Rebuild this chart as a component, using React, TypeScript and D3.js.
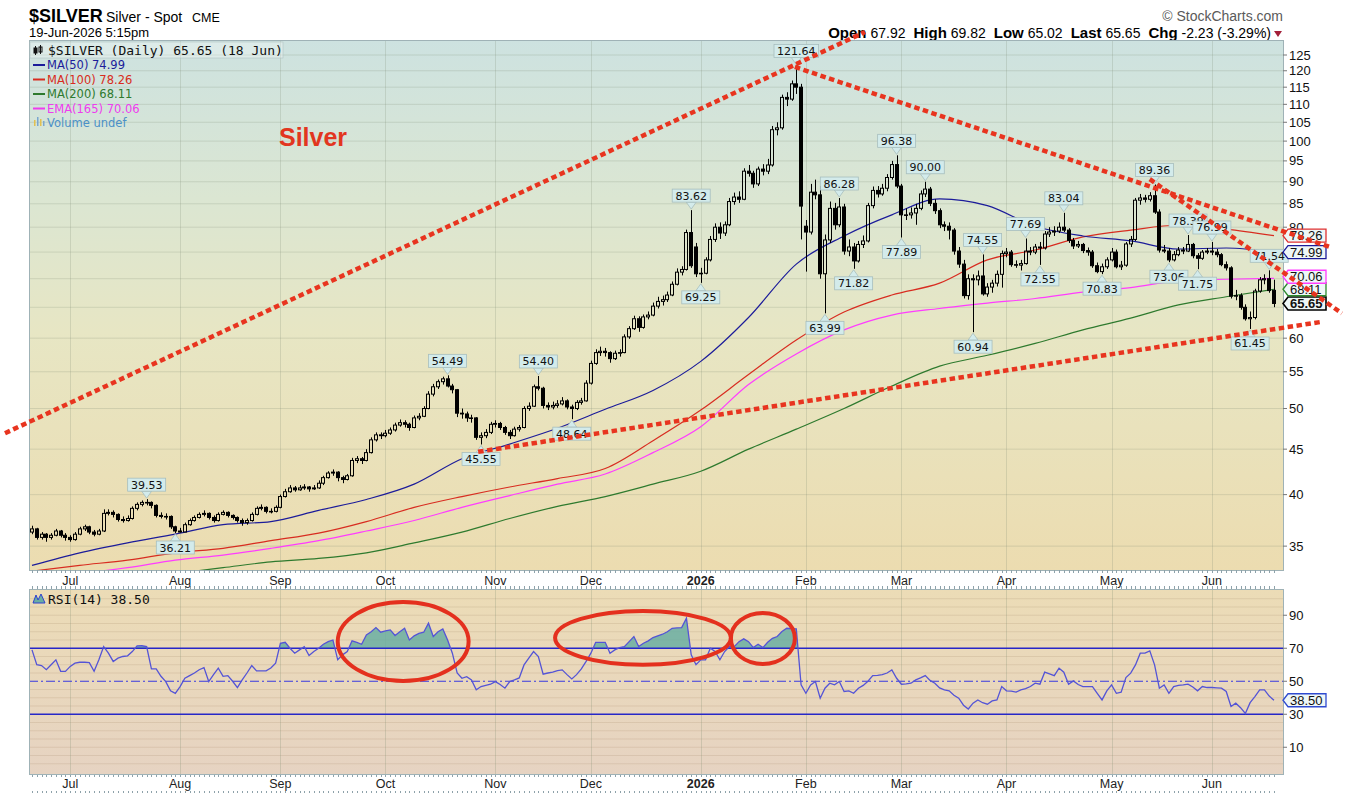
import React from 'react';
import * as d3 from 'd3';

// daily bars, [open, high, low, close]
const jun2025 = [
  [36.3, 36.9, 36.1, 36.6], [36.6, 36.7, 35.6, 35.8], [35.8, 36.3, 35.6, 36.1], [36.1, 36.2, 35.4, 35.8],
  [35.8, 36.2, 35.6, 36.0], [36.0, 36.6, 35.9, 36.4], [36.4, 36.5, 35.8, 36.0], [36.0, 36.2, 35.5, 35.8],
];
const jul2025 = [
  [35.8, 36.0, 35.4, 35.6], [35.6, 36.3, 35.5, 36.1], [36.1, 36.8, 36.0, 36.6], [36.6, 37.0, 36.4, 36.8],
  [36.8, 36.9, 36.1, 36.3], [36.3, 36.5, 35.9, 36.1], [36.1, 36.6, 36.0, 36.4], [36.4, 38.5, 36.3, 38.1],
  [38.1, 38.5, 37.9, 38.2], [38.2, 38.4, 37.7, 38.0], [38.0, 38.1, 37.3, 37.5], [37.5, 37.8, 37.2, 37.4],
  [37.4, 37.9, 37.3, 37.6], [37.6, 38.8, 37.5, 38.6], [38.6, 39.2, 38.4, 39.0], [39.0, 39.4, 38.8, 39.2],
  [39.2, 39.53, 38.9, 39.2], [39.2, 39.3, 38.6, 38.9], [38.9, 39.0, 37.7, 37.9], [37.9, 38.2, 37.6, 37.8],
  [37.8, 38.1, 37.5, 37.8], [37.8, 37.9, 36.6, 36.8], [36.8, 36.9, 36.21, 36.4],
];
const aug2025 = [
  [36.4, 36.7, 36.25, 36.3], [36.3, 37.2, 36.3, 37.0], [37.0, 37.6, 36.9, 37.4], [37.4, 37.9, 37.3, 37.7],
  [37.7, 38.2, 37.6, 38.0], [38.0, 38.4, 37.8, 38.1], [38.1, 38.2, 37.5, 37.7], [37.7, 37.9, 37.2, 37.4],
  [37.4, 38.2, 37.3, 38.0], [38.0, 38.4, 37.9, 38.2], [38.2, 38.3, 37.7, 37.9], [37.9, 38.0, 37.5, 37.7],
  [37.7, 37.8, 37.2, 37.4], [37.4, 37.6, 36.9, 37.2], [37.2, 37.6, 37.0, 37.4], [37.4, 38.2, 37.3, 38.0],
  [38.0, 38.8, 37.9, 38.6], [38.6, 39.0, 38.4, 38.7], [38.7, 38.8, 38.1, 38.3], [38.3, 38.6, 38.1, 38.3],
  [38.3, 38.9, 38.2, 38.7],
];
const sep2025 = [
  [38.7, 40.0, 38.6, 39.8], [39.8, 40.6, 39.7, 40.3], [40.3, 41.0, 40.2, 40.7], [40.7, 40.9, 40.3, 40.5],
  [40.5, 41.0, 40.4, 40.7], [40.7, 41.1, 40.5, 40.8], [40.8, 40.9, 40.3, 40.6], [40.6, 41.0, 40.5, 40.7],
  [40.7, 41.5, 40.6, 41.2], [41.2, 42.0, 41.0, 41.8], [41.8, 42.5, 41.7, 42.3], [42.3, 42.7, 42.0, 42.4],
  [42.4, 42.5, 41.4, 41.8], [41.8, 42.0, 41.2, 41.6], [41.6, 42.2, 41.5, 42.0], [42.0, 44.0, 41.9, 43.7],
  [43.7, 44.2, 43.4, 43.9], [43.9, 44.1, 43.3, 43.7], [43.7, 45.0, 43.6, 44.6], [44.6, 46.4, 44.5, 46.1],
  [46.1, 47.0, 45.9, 46.7], [46.7, 47.0, 46.2, 46.6],
];
const oct2025 = [
  [46.6, 47.3, 46.4, 46.9], [46.9, 47.6, 46.7, 47.3], [47.3, 48.2, 47.1, 47.9], [47.9, 48.6, 47.7, 48.2],
  [48.2, 48.5, 47.6, 48.0], [48.0, 48.2, 47.2, 47.6], [47.6, 49.1, 47.5, 48.8], [48.8, 49.4, 48.5, 49.0],
  [49.0, 50.3, 48.9, 50.0], [50.0, 52.3, 49.9, 51.9], [51.9, 53.3, 51.6, 52.9], [52.9, 53.9, 52.6, 53.6],
  [53.6, 54.3, 53.2, 54.0], [54.0, 54.49, 52.8, 53.0], [53.0, 53.3, 52.0, 52.5], [52.5, 52.6, 48.9, 49.4],
  [49.4, 50.0, 48.7, 49.3], [49.3, 49.6, 48.3, 48.8], [48.8, 49.2, 48.2, 48.8], [48.8, 48.9, 46.1, 46.4],
  [46.4, 47.0, 45.55, 46.6], [46.6, 47.4, 46.3, 47.0], [47.0, 48.3, 46.8, 48.0],
];
const nov2025 = [
  [48.0, 48.5, 47.6, 48.1], [48.1, 48.3, 47.3, 47.6], [47.6, 47.8, 46.7, 47.0], [47.0, 47.3, 46.2, 46.6],
  [46.6, 47.7, 46.5, 47.4], [47.4, 47.9, 47.1, 47.6], [47.6, 50.3, 47.5, 50.0], [50.0, 50.8, 49.7, 50.3],
  [50.3, 53.2, 50.2, 52.9], [52.9, 54.4, 52.4, 52.7], [52.7, 52.9, 50.0, 50.4], [50.4, 50.8, 49.8, 50.2],
  [50.2, 50.9, 49.9, 50.4], [50.4, 51.1, 50.1, 50.6], [50.6, 51.5, 50.4, 51.0], [51.0, 51.2, 49.9, 50.2],
  [50.2, 50.5, 48.64, 50.0], [50.0, 51.1, 49.8, 50.8], [50.8, 51.4, 50.5, 51.0], [51.0, 53.8, 50.9, 53.4],
];
const dec2025 = [
  [53.4, 56.6, 53.2, 56.2], [56.2, 58.3, 56.0, 57.8], [57.8, 58.7, 57.3, 58.0], [58.0, 58.5, 57.2, 57.8],
  [57.8, 58.0, 56.3, 56.9], [56.9, 58.1, 56.7, 57.7], [57.7, 58.3, 57.2, 57.8], [57.8, 60.6, 57.7, 60.2],
  [60.2, 61.9, 59.9, 61.5], [61.5, 63.6, 61.3, 63.1], [63.1, 63.5, 61.0, 61.7], [61.7, 63.8, 61.5, 63.4],
  [63.4, 64.3, 63.0, 63.7], [63.7, 65.8, 63.5, 65.2], [65.2, 66.8, 64.8, 66.0], [66.0, 67.0, 65.3, 66.3],
  [66.3, 67.7, 65.9, 67.1], [67.1, 69.5, 66.9, 69.0], [69.0, 71.9, 68.8, 71.2], [71.2, 72.3, 70.6, 71.7],
  [71.7, 79.5, 71.5, 78.9], [78.9, 83.62, 72.0, 72.4], [76.0, 76.8, 70.3, 70.9],
];
const jan2026 = [
  [70.9, 72.0, 69.25, 71.0], [71.0, 74.0, 70.8, 73.5], [73.5, 78.2, 73.2, 77.5], [77.5, 80.8, 77.0, 80.0],
  [80.0, 81.0, 77.6, 78.8], [78.8, 81.2, 78.2, 80.5], [80.5, 86.3, 80.2, 85.5], [85.5, 87.5, 84.8, 86.5],
  [86.5, 87.8, 85.2, 86.0], [86.0, 93.2, 85.8, 92.5], [92.5, 94.0, 91.2, 92.0], [92.0, 92.6, 88.6, 89.5],
  [89.5, 93.6, 89.0, 93.0], [93.0, 94.2, 91.5, 92.5], [92.5, 95.5, 91.8, 94.0], [94.0, 104.0, 93.6, 103.0],
  [103.0, 105.0, 101.5, 103.5], [103.5, 112.8, 103.0, 112.0], [112.0, 113.5, 109.5, 111.5], [111.5, 117.0, 111.0, 116.0],
  [116.0, 121.64, 113.0, 115.0], [115.0, 116.0, 77.5, 84.5],
];
const feb2026 = [
  [80.2, 81.5, 71.3, 79.0], [79.0, 89.5, 78.5, 87.6], [87.6, 90.5, 86.0, 87.0], [87.0, 89.0, 70.0, 70.9],
  [70.9, 78.5, 63.99, 77.4], [77.4, 85.5, 76.8, 84.0], [84.0, 85.2, 79.5, 80.5], [80.5, 86.28, 80.0, 84.3],
  [84.3, 85.0, 74.5, 75.2], [75.2, 77.5, 74.2, 76.0], [76.0, 76.8, 71.82, 73.3], [73.3, 77.2, 73.0, 76.5],
  [76.5, 78.3, 75.8, 77.2], [77.2, 85.2, 76.9, 84.6], [84.6, 88.9, 84.0, 88.0], [88.0, 89.0, 86.4, 87.2],
  [87.2, 89.5, 86.8, 88.5], [88.5, 91.8, 87.8, 91.0], [91.0, 95.0, 90.5, 94.1], [94.1, 96.38, 88.5, 89.0],
];
const mar2026 = [
  [89.0, 89.5, 77.89, 82.6], [82.6, 84.0, 81.5, 82.6], [82.6, 84.2, 81.8, 83.0], [83.0, 85.0, 80.5, 84.0],
  [84.0, 88.0, 83.6, 87.2], [87.2, 90.0, 86.5, 88.3], [88.3, 88.8, 84.5, 85.1], [85.1, 86.0, 82.8, 83.5],
  [83.5, 84.0, 79.8, 80.5], [80.5, 81.2, 79.2, 80.2], [80.2, 81.0, 77.5, 79.4], [79.4, 79.8, 74.5, 75.2],
  [75.2, 76.0, 72.0, 72.7], [72.7, 73.5, 66.5, 67.0], [67.0, 70.8, 66.3, 70.0], [70.0, 70.8, 60.94, 69.8],
  [69.8, 71.5, 68.8, 70.5], [70.5, 74.55, 67.0, 67.3], [67.3, 69.2, 66.8, 68.5], [68.5, 69.8, 67.5, 69.2],
  [69.2, 71.5, 68.6, 70.8], [70.8, 75.3, 68.4, 74.7],
];
const apr2026 = [
  [74.7, 75.8, 74.0, 75.0], [75.0, 75.4, 72.2, 72.6], [72.6, 73.4, 72.0, 72.5], [72.5, 73.5, 71.5, 72.8],
  [72.8, 77.69, 72.6, 75.2], [75.2, 76.0, 74.4, 75.0], [75.0, 76.6, 74.6, 76.0], [76.0, 77.0, 72.55, 75.8],
  [75.8, 79.2, 75.5, 78.6], [78.6, 80.0, 78.0, 79.0], [79.0, 80.2, 78.2, 79.2], [79.2, 81.0, 78.8, 80.0],
  [80.0, 83.04, 79.0, 79.4], [79.4, 79.8, 76.8, 77.3], [77.3, 77.8, 75.6, 76.2], [76.2, 77.2, 75.8, 76.5],
  [76.5, 76.8, 74.8, 75.3], [75.3, 75.9, 74.3, 75.0], [75.0, 75.4, 72.0, 72.4], [72.4, 73.0, 71.0, 71.3],
  [71.3, 72.8, 70.83, 72.2], [72.2, 74.0, 71.8, 73.5],
];
const may2026 = [
  [73.5, 75.8, 73.2, 75.0], [75.0, 75.5, 71.9, 72.2], [72.2, 73.3, 71.6, 72.5], [72.5, 77.0, 72.2, 76.6],
  [76.6, 78.2, 76.0, 77.5], [77.5, 86.3, 77.2, 85.8], [85.8, 87.2, 84.8, 86.3], [86.3, 87.0, 85.3, 86.0],
  [86.0, 87.6, 85.5, 86.8], [86.8, 89.36, 82.8, 83.2], [83.2, 83.8, 74.9, 75.4], [75.4, 76.4, 74.8, 75.2],
  [75.2, 75.8, 73.06, 73.5], [73.5, 75.2, 73.2, 74.5], [74.5, 76.0, 74.2, 75.4], [75.4, 76.0, 74.6, 75.2],
  [75.2, 78.39, 75.0, 76.5], [76.5, 76.8, 73.8, 74.3], [74.3, 74.8, 71.75, 73.8], [73.8, 75.4, 73.5, 75.0],
  [75.0, 75.8, 74.6, 75.2],
];
const jun2026 = [
  [75.2, 76.99, 74.4, 75.0], [75.0, 75.6, 74.0, 74.5], [74.5, 74.8, 72.3, 72.6], [72.6, 73.2, 71.5, 72.0],
  [72.0, 72.3, 66.5, 66.9], [66.9, 68.0, 66.2, 67.0], [67.0, 67.4, 64.6, 65.0], [65.0, 65.5, 62.8, 63.1],
  [63.1, 64.3, 61.45, 63.3], [63.3, 68.2, 63.0, 67.8], [67.8, 70.3, 67.5, 69.8], [69.8, 70.8, 69.0, 70.0],
  [70.0, 71.54, 67.5, 67.88], [67.92, 69.82, 65.02, 65.65],
];

// moving averages, one reading every 10 sessions
const maStep = 10;
const ma50 = [33.3, 34.4, 35.3, 36.1, 37.0, 37.3, 38.4, 39.5, 41.1, 43.9, 45.6, 47.5, 49.9, 52.4, 56.5, 63.3, 72.7, 78.2, 82.6, 86.1, 84.6, 80.2, 78.2, 77.2, 75.6, 75.8, 74.99];
const ma100 = [32.8, 33.3, 33.75, 34.4, 34.8, 35.5, 36.2, 37.3, 38.7, 39.8, 40.8, 41.7, 42.8, 46.0, 49.8, 54.6, 59.7, 64.2, 67.1, 69.2, 73.5, 75.4, 78.0, 79.4, 80.4, 79.6, 78.26];
const ma200 = [31.2, 31.6, 32.1, 32.6, 33.1, 33.6, 33.9, 34.4, 35.3, 36.3, 37.6, 38.8, 39.8, 41.1, 42.5, 45.0, 47.4, 50.0, 53.0, 55.8, 57.4, 59.2, 61.3, 63.2, 65.4, 66.8, 68.11];
const ema165 = [32.2, 32.6, 33.1, 33.75, 34.2, 34.8, 35.5, 36.4, 37.4, 38.7, 39.9, 41.1, 42.2, 44.6, 47.7, 53.2, 57.6, 61.3, 63.7, 64.8, 65.7, 66.5, 67.6, 68.4, 69.6, 69.9, 70.06];

// RSI(14), one value per session
const rsi14 = [
  69, 60, 59.5, 57, 60, 63, 56, 56,
  59, 61, 61.5, 61.5, 61.3, 56, 63, 71, 67, 62, 64, 65, 65.4, 68, 71.4, 71.5, 71, 57.5, 57.5, 53, 49.8, 44.2, 42.7,
  46.8, 51.8, 53.4, 55, 57, 58.3, 49.8, 54, 57.9, 53, 53.4, 50, 46.2, 50.8, 55, 59.5, 56.3, 56.3, 56.3, 58, 61,
  73, 73.6, 70, 67, 69, 71, 65.6, 68, 70, 72.4, 74, 75, 63, 66, 68, 74.5, 73.5, 72.4, 78.1, 80, 82.5, 79.7,
  80.5, 81.1, 77.7, 80, 82.1, 75, 77.5, 79, 79.7, 85.2, 77.1, 80, 81.7, 75, 67, 55, 51.8, 52.8, 50.8, 44.8, 46.8, 47.5, 48.2,
  49.8, 48, 45.8, 49.8, 50.8, 52, 59.9, 64, 68, 65, 54.3, 55, 55.5, 56.5, 56.9, 54, 51.4, 54, 57.5, 62,
  67, 73.6, 73.6, 73.6, 67, 69, 70.4, 71, 74, 77.1, 71, 73, 74.5, 76.5, 77.5, 78.5, 80, 82.1, 82.3, 82.5, 88.2, 66, 60,
  63, 63, 70, 68, 63, 68, 71, 71, 74, 75.7, 74, 70.4, 72.4, 70.4, 73.6, 76, 77.1, 80.1, 82.1, 81.9, 81.7, 47.8,
  42.7, 47.8, 49.8, 39.7, 45.8, 48.8, 47.8, 49.8, 43.8, 44.2, 42.7, 45.8, 47.5, 50, 53.4, 53.6, 54, 55, 56.9, 51.8,
  48.2, 48.4, 48.8, 50.8, 52, 53.4, 50.5, 48.8, 46, 44.8, 44.2, 41.5, 39.7, 35.5, 33.2, 36.7, 38.7, 37, 36.1, 38.1, 38.7, 46.8,
  44.2, 44, 43.4, 44.8, 45.5, 46.8, 48.8, 48.2, 55.5, 54.5, 53.4, 57.9, 55.5, 48.2, 50.2, 48, 46.8, 46.8, 46.8, 42.7, 38.7, 44.2,
  47.8, 42.7, 43.4, 52.2, 54.9, 59.9, 67, 67, 68.4, 59.9, 45.8, 47.8, 42.7, 46.8, 47.5, 47.8, 48.2, 46.5, 44.2, 46.8, 46.2,
  46.2, 46, 45.8, 43.8, 34.7, 36.7, 34, 30.5, 37, 40.7, 44.8, 44.8, 41, 38.5,
];

const priceTicks = [125, 120, 115, 110, 105, 100, 95, 90, 85, 80, 75, 70, 65, 60, 55, 50, 45, 40, 35];
const rsiTicks = [90, 70, 50, 30, 10];

// annotated turning points [date, price]
const pivotHighs: [string, number][] = [
  ['2025-07-23', 39.53], ['2025-10-20', 54.49], ['2025-11-14', 54.4], ['2025-12-30', 83.62],
  ['2026-01-29', 121.64], ['2026-02-11', 86.28], ['2026-02-27', 96.38], ['2026-03-09', 90.0],
  ['2026-03-25', 74.55], ['2026-04-07', 77.69], ['2026-04-17', 83.04], ['2026-05-14', 89.36],
  ['2026-05-25', 78.39], ['2026-06-01', 76.99], ['2026-06-17', 71.54],
];
const pivotLows: [string, number][] = [
  ['2025-07-31', 36.21], ['2025-10-29', 45.55], ['2025-11-25', 48.64], ['2026-01-01', 69.25],
  ['2026-02-06', 63.99], ['2026-02-16', 71.82], ['2026-03-02', 77.89], ['2026-03-23', 60.94],
  ['2026-04-10', 72.55], ['2026-04-29', 70.83], ['2026-05-19', 73.06], ['2026-05-27', 71.75],
  ['2026-06-11', 61.45],
];

// hand-drawn trend lines: [session, price] -> [session, price]
const trendLines: [number, number][][] = [
  [[-5.65, 46.9], [174.4, 132.7]],
  [[159.7, 121.2], [271.7, 76.0]],
  [[234.0, 90.6], [274.2, 64.0]],
  [[93.4, 44.7], [270.0, 62.6]],
];

// RSI highlight rings: session span and RSI span
const rsiRings = [
  { from: 64.0, to: 91.4, lo: 50.2, hi: 98.0 },
  { from: 109.5, to: 146.3, lo: 60.0, hi: 92.6 },
  { from: 146.3, to: 159.7, lo: 60.5, hi: 91.4 },
];

const SANS = "'Liberation Sans', Arial, Helvetica, sans-serif";
const VERD = "'DejaVu Sans', Verdana, sans-serif";
const MONO = "'DejaVu Sans Mono', monospace";

const sessions: Date[] = d3.timeDay
  .range(new Date(2025, 5, 19), new Date(2026, 5, 19))
  .filter((d) => d.getDay() !== 0 && d.getDay() !== 6);

const bars = [
  ...jun2025, ...jul2025, ...aug2025, ...sep2025, ...oct2025, ...nov2025,
  ...dec2025, ...jan2026, ...feb2026, ...mar2026, ...apr2026, ...may2026, ...jun2026,
].map((b, i) => ({ i, date: sessions[i], open: b[0], high: b[1], low: b[2], close: b[3] }));

const keyFmt = d3.timeFormat('%Y-%m-%d');
const sessionIndex = new Map(sessions.map((d, i) => [keyFmt(d), i]));

const PL = 29, PR = 1283, PT = 40, PB = 570;
const RT = 589, RB = 774;

export default function App() {
  const x = d3.scaleLinear().domain([0, bars.length - 1]).range([32, 1274]);
  const y = d3.scaleLog().domain([32.9, 129.96]).range([PB, PT]);
  const ry = d3.scaleLinear().domain([-6.2, 105.9]).range([RB, RT]);

  const last = bars[bars.length - 1];
  const prev = bars[bars.length - 2];
  const chg = last.close - prev.close;
  const pct = (chg / prev.close) * 100;

  const monthStarts = sessions
    .map((d, i) => ({ d, i }))
    .filter(({ d, i }) => i > 0 && d.getMonth() !== sessions[i - 1].getMonth());
  const monthLabel = (d: Date) => (d.getMonth() === 0 ? String(d.getFullYear()) : d3.timeFormat('%b')(d));

  const maLine = d3
    .line<number>()
    .x((_, k) => x(k * maStep))
    .y((v) => y(v))
    .curve(d3.curveMonotoneX);

  const rsiLine = d3.line<number>().x((_, i) => x(i)).y((v) => ry(v));
  const rsiArea = d3.area<number>().x((_, i) => x(i)).y0(ry(70)).y1((v) => ry(v));

  const trendPath = (pts: [number, number][]) =>
    d3.line<[number, number]>().x((p) => x(p[0])).y((p) => y(p[1]))(pts) || '';

  // right-hand value tags, pushed apart so they don't overlap
  const tags = [
    { v: ma100[ma100.length - 1], color: '#e03030', bold: false },
    { v: ma50[ma50.length - 1], color: '#1c1c9a', bold: false },
    { v: ema165[ema165.length - 1], color: '#ff3cff', bold: false },
    { v: ma200[ma200.length - 1], color: '#2e8a2e', bold: false },
    { v: last.close, color: '#000', bold: true },
  ]
    .map((t) => ({ ...t, y: y(t.v) }))
    .sort((a, b) => b.y - a.y);
  for (let k = 1; k < tags.length; k++) {
    if (tags[k - 1].y - tags[k].y < 12.5) tags[k].y = tags[k - 1].y - 12.5;
  }
  const shownTicks = priceTicks.filter((t) => tags.every((g) => Math.abs(g.y - y(t)) > 7));

  const tagPath = (yy: number) =>
    `M${PR},${yy} L${PR + 5},${yy - 6.5} L1326,${yy - 6.5} L1326,${yy + 6.5} L${PR + 5},${yy + 6.5} Z`;

  const candle = (b: (typeof bars)[number]) => {
    const cx = Math.round(x(b.i));
    const up = b.close >= b.open;
    const top = y(Math.max(b.open, b.close));
    const bot = y(Math.min(b.open, b.close));
    return (
      <g key={b.i}>
        <line x1={cx + 0.5} x2={cx + 0.5} y1={y(b.high)} y2={top} stroke="#000" />
        <line x1={cx + 0.5} x2={cx + 0.5} y1={bot} y2={y(b.low)} stroke="#000" />
        <rect
          x={cx - 1.5}
          y={top}
          width={3}
          height={Math.max(bot - top, 0.6)}
          fill={up ? 'none' : '#000'}
          stroke="#000"
          strokeWidth={1}
        />
      </g>
    );
  };

  const pivotLabel = (date: string, v: number, high: boolean, key: string) => {
    const i = sessionIndex.get(date) ?? 0;
    const cx = x(i);
    const txt = v.toFixed(2);
    const w = txt.length * 6.6 + 5;
    const tip = high ? y(v) - 1 : y(v) + 1;
    const edge = high ? tip - 7 : tip + 7;
    const boxY = high ? edge - 13 : edge;
    return (
      <g key={key}>
        <path
          d={`M${cx},${tip} L${cx - 5},${edge} L${cx + 5},${edge} Z`}
          fill="#d3ebeb"
          stroke="#a7bebe"
          strokeWidth={0.8}
        />
        <rect x={cx - w / 2} y={boxY} width={w} height={13} fill="#d3ebeb" stroke="#a7bebe" strokeWidth={0.8} />
        <text x={cx} y={boxY + 10.5} textAnchor="middle" fontFamily={VERD} fontSize={11} fill="#111">
          {txt}
        </text>
      </g>
    );
  };

  const ohlcParts: [string, string][] = [
    ['Open', last.open.toFixed(2)],
    ['High', last.high.toFixed(2)],
    ['Low', last.low.toFixed(2)],
    ['Last', last.close.toFixed(2)],
    ['Chg', `${chg.toFixed(2)} (${pct.toFixed(2)}%)`],
  ];

  const legend = [
    { label: `MA(50) ${ma50[ma50.length - 1].toFixed(2)}`, color: '#1c1c9a' },
    { label: `MA(100) ${ma100[ma100.length - 1].toFixed(2)}`, color: '#d82c20' },
    { label: `MA(200) ${ma200[ma200.length - 1].toFixed(2)}`, color: '#2e7a2e' },
    { label: `EMA(165) ${ema165[ema165.length - 1].toFixed(2)}`, color: '#ee3cee' },
  ];

  const rsiGrid = d3.range(0, 105, 5).filter((v) => v !== 30 && v !== 50 && v !== 70);

  return (
    <div style={{ position: 'absolute', left: 0, top: 0, background: '#fff' }}>
      <svg width={1354} height={802} style={{ display: 'block' }}>
        <defs>
          <linearGradient id="mainBg" x1="0" y1="0" x2="0" y2="1">
            <stop offset="0" stopColor="#cde2e0" />
            <stop offset="0.3" stopColor="#dbe6d2" />
            <stop offset="0.55" stopColor="#e7e6c4" />
            <stop offset="1" stopColor="#ecdcb0" />
          </linearGradient>
          <linearGradient id="rsiBg" x1="0" y1="0" x2="0" y2="1">
            <stop offset="0" stopColor="#ecdcb6" />
            <stop offset="1" stopColor="#e6d3c2" />
          </linearGradient>
          <clipPath id="mainClip">
            <rect x={PL} y={PT} width={PR - PL} height={PB - PT} />
          </clipPath>
          <clipPath id="rsiClip">
            <rect x={PL} y={RT} width={PR - PL} height={RB - RT} />
          </clipPath>
          <clipPath id="over70">
            <rect x={PL} y={RT} width={PR - PL} height={ry(70) - RT} />
          </clipPath>
        </defs>

        {/* header */}
        <text x={29} y={22} fontFamily={SANS} fontSize={18} fontWeight="bold">$SILVER</text>
        <text x={106} y={22} fontFamily={SANS} fontSize={14}>Silver - Spot</text>
        <text x={192} y={22} fontFamily={SANS} fontSize={12.5}>CME</text>
        <text x={29} y={37} fontFamily={SANS} fontSize={13}>19-Jun-2026 5:15pm</text>
        <text x={1283} y={21} textAnchor="end" fontFamily={SANS} fontSize={14} fill="#5a5a5a">
          © StockCharts.com
        </text>
        <text x={1271} y={38} textAnchor="end" fontFamily={SANS}>
          {ohlcParts.map(([k, v], n) => (
            <React.Fragment key={k}>
              <tspan fontWeight="bold" fontSize={15} dx={n === 0 ? 0 : 8}>{k}</tspan>
              <tspan fontSize={14}> {v}</tspan>
            </React.Fragment>
          ))}
        </text>
        <path d="M1274,31 L1282,31 L1278,37 Z" fill="#a3203a" />

        {/* price panel */}
        <rect x={PL} y={PT} width={PR - PL} height={PB - PT} fill="url(#mainBg)" />
        <g stroke="#7d8a70" strokeOpacity={0.22}>
          {priceTicks.map((t) => (
            <line key={t} x1={PL} x2={PR} y1={y(t)} y2={y(t)} />
          ))}
          {monthStarts.map(({ i }) => (
            <line key={i} x1={Math.round(x(i)) + 0.5} x2={Math.round(x(i)) + 0.5} y1={PT} y2={PB} />
          ))}
        </g>

        <g clipPath="url(#mainClip)" fill="none" strokeWidth={1.2}>
          <path d={maLine(ma200) || ''} stroke="#2e7a2e" />
          <path d={maLine(ema165) || ''} stroke="#ff3cff" />
          <path d={maLine(ma100) || ''} stroke="#d82c20" />
          <path d={maLine(ma50) || ''} stroke="#1c1c9a" />
        </g>
        <g clipPath="url(#mainClip)">{bars.map(candle)}</g>

        <rect x={PL + 0.5} y={PT + 0.5} width={PR - PL} height={PB - PT} fill="none" stroke="#9fb2b6" />

        {/* legend */}
        <rect x={30} y={42} width={253} height={16} fill="#ffffff" fillOpacity={0.3} stroke="#b2c4c4" strokeWidth={0.6} />
        <g stroke="#111" strokeWidth={1}>
          <line x1={35.5} x2={35.5} y1={46} y2={55} />
          <rect x={34} y={48} width={3} height={5} fill="#111" />
          <line x1={40.5} x2={40.5} y1={45} y2={54} />
          <rect x={39} y={47} width={3} height={5} fill="none" />
        </g>
        <text x={48} y={55} fontFamily={MONO} fontSize={13} fill="#111">
          {`$SILVER (Daily) ${last.close.toFixed(2)} (${d3.timeFormat('%d %b')(last.date)})`}
        </text>
        {legend.map((l, k) => (
          <g key={l.label}>
            <line x1={33} x2={45} y1={65 + k * 14.5} y2={65 + k * 14.5} stroke={l.color} strokeWidth={2} />
            <text x={47} y={69 + k * 14.5} fontFamily={VERD} fontSize={11.5} fill={l.color}>
              {l.label}
            </text>
          </g>
        ))}
        <g>
          <rect x={34} y={120} width={1.5} height={6} fill="#e2c050" />
          <rect x={37} y={117} width={1.5} height={9} fill="#7aa6d0" />
          <rect x={40} y={119} width={1.5} height={7} fill="#e2c050" />
          <rect x={43} y={121} width={1.5} height={5} fill="#7aa6d0" />
        </g>
        <text x={47} y={127} fontFamily={VERD} fontSize={11.5} fill="#4b90c8">Volume undef</text>

        <text x={279} y={146} fontFamily={SANS} fontSize={25} fontWeight="bold" fill="#e2361f">Silver</text>

        {/* price axis */}
        {shownTicks.map((t) => (
          <g key={t}>
            <line x1={PR} x2={PR + 4} y1={y(t)} y2={y(t)} stroke="#777" />
            <text x={1289} y={y(t) + 4.5} fontFamily={SANS} fontSize={13} fill="#111">{t}</text>
          </g>
        ))}

        {/* turning-point callouts */}
        {pivotLows.map(([d, v]) => pivotLabel(d, v, false, 'l' + d))}
        {pivotHighs.map(([d, v]) => pivotLabel(d, v, true, 'h' + d))}

        {/* value tags */}
        {tags.map((t) => (
          <g key={t.color}>
            <path d={tagPath(t.y)} fill="#eef7f7" stroke={t.color} strokeWidth={t.bold ? 1.6 : 1.3} />
            <text
              x={1290}
              y={t.y + 4.5}
              fontFamily={SANS}
              fontSize={13}
              fontWeight={t.bold ? 'bold' : 'normal'}
              fill="#111"
            >
              {t.v.toFixed(2)}
            </text>
          </g>
        ))}

        {/* date strip between panels */}
        <g stroke="#8ea2aa">
          {sessions.map((_, i) => (
            <React.Fragment key={i}>
              <line x1={Math.round(x(i)) + 0.5} x2={Math.round(x(i)) + 0.5} y1={PB} y2={PB + 3} />
              <line x1={Math.round(x(i)) + 0.5} x2={Math.round(x(i)) + 0.5} y1={RT - 3} y2={RT} />
              <line x1={Math.round(x(i)) + 0.5} x2={Math.round(x(i)) + 0.5} y1={RB} y2={RB + 3} />
              <line x1={Math.round(x(i)) + 0.5} x2={Math.round(x(i)) + 0.5} y1={791} y2={793} />
            </React.Fragment>
          ))}
        </g>
        {monthStarts.map(({ d, i }) => (
          <React.Fragment key={i}>
            <text
              x={x(i)}
              y={585}
              textAnchor="middle"
              fontFamily={SANS}
              fontSize={12.5}
              fontWeight={d.getMonth() === 0 ? 'bold' : 'normal'}
              fill="#222"
            >
              {monthLabel(d)}
            </text>
            <text
              x={x(i)}
              y={788}
              textAnchor="middle"
              fontFamily={SANS}
              fontSize={12.5}
              fontWeight={d.getMonth() === 0 ? 'bold' : 'normal'}
              fill="#222"
            >
              {monthLabel(d)}
            </text>
          </React.Fragment>
        ))}

        {/* RSI panel */}
        <rect x={PL} y={RT} width={PR - PL} height={RB - RT} fill="url(#rsiBg)" />
        <g stroke="#9a8060" strokeOpacity={0.18}>
          {rsiGrid.map((v) => (
            <line key={v} x1={PL} x2={PR} y1={ry(v)} y2={ry(v)} />
          ))}
        </g>
        <g stroke="#7d8a70" strokeOpacity={0.25}>
          {monthStarts.map(({ i }) => (
            <line key={i} x1={Math.round(x(i)) + 0.5} x2={Math.round(x(i)) + 0.5} y1={RT} y2={RB} />
          ))}
        </g>
        <g clipPath="url(#over70)">
          <path d={rsiArea(rsi14) || ''} fill="#6aaea2" fillOpacity={0.85} />
        </g>
        <line x1={PL} x2={PR} y1={ry(70)} y2={ry(70)} stroke="#2727c8" strokeWidth={1.3} />
        <line x1={PL} x2={PR} y1={ry(30)} y2={ry(30)} stroke="#2727c8" strokeWidth={1.3} />
        <line x1={PL} x2={PR} y1={ry(50)} y2={ry(50)} stroke="#3a3ae0" strokeWidth={1.2} strokeDasharray="9 3 2 3" />
        <g clipPath="url(#rsiClip)">
          <path d={rsiLine(rsi14) || ''} fill="none" stroke="#5454d6" strokeWidth={1.3} />
        </g>
        <rect x={PL + 0.5} y={RT + 0.5} width={PR - PL} height={RB - RT} fill="none" stroke="#9fb2b6" />

        <path d="M33,603 L36,595 L38,600 L41,594 L45,603 Z" fill="#6aaea2" stroke="#3040d0" strokeWidth={1} />
        <text x={48} y={604} fontFamily={MONO} fontSize={13} fill="#111">
          {`RSI(14) ${rsi14[rsi14.length - 1].toFixed(2)}`}
        </text>

        {rsiTicks.map((t) => (
          <g key={t}>
            <line x1={PR} x2={PR + 4} y1={ry(t)} y2={ry(t)} stroke="#777" />
            <text x={1289} y={ry(t) + 4.5} fontFamily={SANS} fontSize={13} fill="#111">{t}</text>
          </g>
        ))}
        <path d={tagPath(ry(rsi14[rsi14.length - 1]))} fill="#eef7f7" stroke="#2e4ad0" strokeWidth={1.3} />
        <text x={1290} y={ry(rsi14[rsi14.length - 1]) + 4.5} fontFamily={SANS} fontSize={13} fill="#111">
          {rsi14[rsi14.length - 1].toFixed(2)}
        </text>

        {rsiRings.map((r, k) => (
          <ellipse
            key={k}
            cx={(x(r.from) + x(r.to)) / 2}
            cy={(ry(r.lo) + ry(r.hi)) / 2}
            rx={(x(r.to) - x(r.from)) / 2}
            ry={(ry(r.lo) - ry(r.hi)) / 2}
            fill="none"
            stroke="#e4301e"
            strokeWidth={4}
          />
        ))}

        {/* trend lines */}
        <g fill="none" stroke="#e8341f" strokeWidth={4.5} strokeDasharray="5.5 3.5">
          {trendLines.map((pts, k) => (
            <path key={k} d={trendPath(pts)} />
          ))}
        </g>
      </svg>
    </div>
  );
}
